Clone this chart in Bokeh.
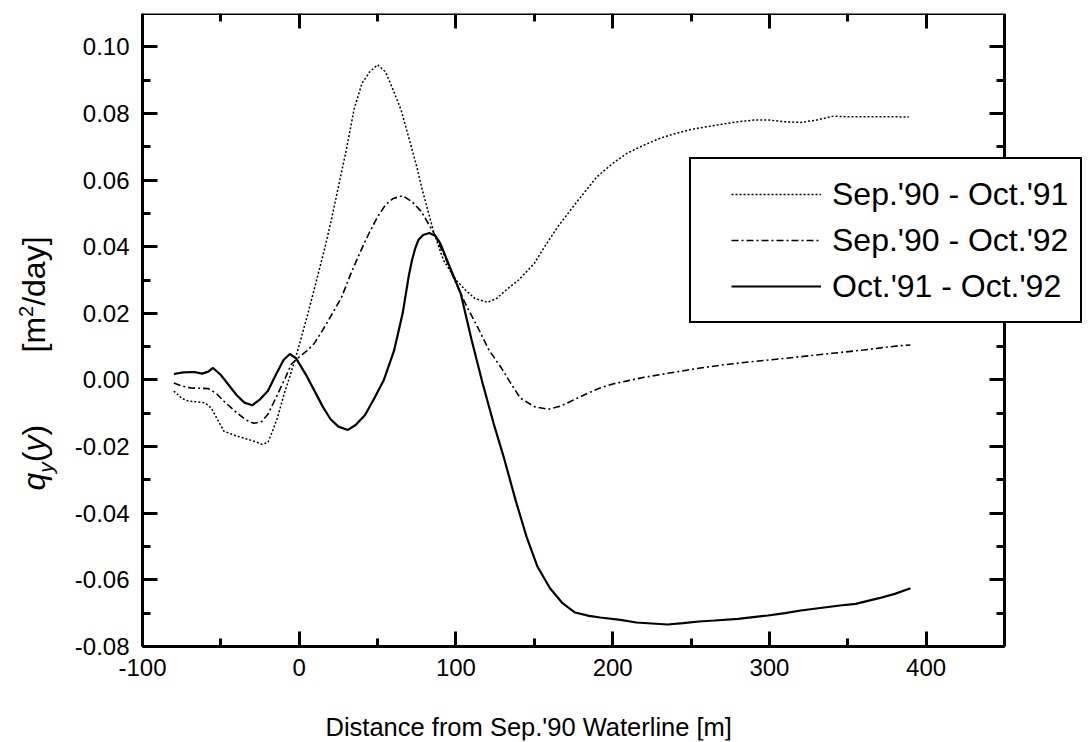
from math import pi
from bokeh.plotting import figure
from bokeh.models import (Range1d, FixedTicker, LinearAxis, Legend, LegendItem,
                          Label)
from bokeh.embed import file_html
from bokeh.resources import INLINE

# ---------------- data ----------------
x_a = [-80, -75, -71, -65, -60, -56, -52, -48, -40, -33, -28, -24, -20, -18, -14,
       -9.5, -6, -3, 0, 5, 10, 16, 20, 25, 30, 35, 40, 45, 50, 55, 60, 65, 69,
       75, 78, 82, 86, 92, 100, 106, 112, 120, 126, 132, 140, 150, 156, 165,
       178, 190, 200, 209, 220, 230, 240, 250, 260, 270, 280, 290, 300, 310,
       320, 330, 341, 350, 360, 370, 380, 389]
y_a = [-0.0033, -0.0055, -0.0063, -0.0066, -0.0069, -0.0085, -0.0120, -0.0154,
       -0.0168, -0.0178, -0.0185, -0.0193, -0.0188, -0.0165, -0.0115, -0.0040,
       0.0010, 0.0057, 0.0105, 0.0190, 0.0280, 0.0390, 0.0470, 0.0580, 0.0690,
       0.0813, 0.0890, 0.0925, 0.0946, 0.0925, 0.0870, 0.0810, 0.0743, 0.0640,
       0.0580, 0.0510, 0.0441, 0.0360, 0.0300, 0.0270, 0.0245, 0.0233, 0.0245,
       0.0270, 0.0300, 0.0350, 0.0396, 0.0460, 0.0540, 0.0610, 0.0650, 0.0680,
       0.0705, 0.0725, 0.0740, 0.0752, 0.0760, 0.0768, 0.0775, 0.0780, 0.0780,
       0.0775, 0.0773, 0.0780, 0.0792, 0.0790, 0.0790, 0.0790, 0.0790, 0.0789]

x_b = [-80, -75, -69, -63, -58, -53, -48, -40, -34, -29, -24, -20, -14, -9, -5,
       0, 5, 9.5, 15, 20, 27, 33, 39.5, 45, 50, 55, 60, 66, 72, 78, 86, 93, 100,
       107, 114, 121, 129, 135, 141, 150, 159, 167, 175, 185, 192, 200, 210,
       220, 235, 256, 270, 285, 300, 320, 340, 360, 383, 390]
y_b = [-0.0009, -0.0018, -0.0024, -0.0025, -0.0026, -0.0040, -0.0064, -0.0098,
       -0.0120, -0.0130, -0.0125, -0.0103, -0.0045, 0.0005, 0.0048, 0.0069,
       0.0088, 0.0109, 0.0150, 0.0190, 0.0248, 0.0320, 0.0390, 0.0445, 0.0490,
       0.0525, 0.0545, 0.0553, 0.0535, 0.0505, 0.0440, 0.0370, 0.0290, 0.0220,
       0.0157, 0.0090, 0.0036, -0.0010, -0.0054, -0.0080, -0.0088, -0.0078,
       -0.0060, -0.0038, -0.0024, -0.0012, -0.0002, 0.0008, 0.0020, 0.0036,
       0.0045, 0.0053, 0.0060, 0.0070, 0.0080, 0.0090, 0.0103, 0.0105]

x_c = [-80, -74, -67, -62, -58, -55, -50, -45, -40, -35, -30, -25, -20, -15,
       -10, -6, -2, 5, 10, 15, 20, 25, 31, 36, 42, 48, 54, 60.5, 66, 70, 72, 74,
       76, 79, 83, 87, 90, 96, 103, 110, 117, 124, 131, 138, 145, 152, 160, 168,
       176, 185, 192, 205, 215, 225, 235, 245, 255, 265, 280, 299, 310, 320,
       335, 345, 355, 370, 380, 390]
y_c = [0.0018, 0.0023, 0.0024, 0.0019, 0.0025, 0.0036, 0.0015, -0.0015, -0.0045,
       -0.0068, -0.0076, -0.0058, -0.0033, 0.0015, 0.0060, 0.0078, 0.0065,
       0.0010, -0.0035, -0.0080, -0.0118, -0.0140, -0.0150, -0.0135, -0.0105,
       -0.0054, 0.0000, 0.0088, 0.0200, 0.0315, 0.0360, 0.0395, 0.0420, 0.0435,
       0.0441, 0.0432, 0.0410, 0.0340, 0.0260, 0.0120, -0.0010, -0.0130,
       -0.0240, -0.0360, -0.0470, -0.0560, -0.0625, -0.0670, -0.0698, -0.0708,
       -0.0713, -0.0720, -0.0728, -0.0731, -0.0734, -0.0730, -0.0725, -0.0722,
       -0.0717, -0.0707, -0.0700, -0.0692, -0.0683, -0.0677, -0.0672, -0.0655,
       -0.0642, -0.0625]

series_labels = ["Sep.'90 - Oct.'91", "Sep.'90 - Oct.'92", "Oct.'91 - Oct.'92"]

x_ticks = [-100, 0, 100, 200, 300, 400]
x_tick_labels = ["-100", "0", "100", "200", "300", "400"]
x_minor = [-50, 50, 150, 250, 350]
y_ticks = [-0.08, -0.06, -0.04, -0.02, 0.0, 0.02, 0.04, 0.06, 0.08, 0.10]
y_tick_labels = ["-0.08", "-0.06", "-0.04", "-0.02", "0.00", "0.02", "0.04",
                 "0.06", "0.08", "0.10"]
y_minor = [-0.07, -0.05, -0.03, -0.01, 0.01, 0.03, 0.05, 0.07, 0.09]
x_axis_span = (-100, 450)
y_axis_span = (-0.08, 0.11)

x_title = "Distance from Sep.'90 Waterline [m]"

FONT = "Liberation Sans"
MID = 0.35   # distance (em) from text middle to its baseline

# ---------------- layout geometry (pixels) ----------------
W, H = 1088, 742
FL, FR, FT, FB = 10, 1087, 13, 740          # frame edges on the canvas
AX_L, AX_R, AX_B = 142, 1004, 646           # where the axis box sits
sx = (AX_R - AX_L) / (x_axis_span[1] - x_axis_span[0])
sy = (AX_B - FT) / (y_axis_span[1] - y_axis_span[0])
x_range = Range1d(x_axis_span[0] - (AX_L - FL) / sx,
                  x_axis_span[1] + (FR - AX_R) / sx)
y_range = Range1d(y_axis_span[0] - (FB - AX_B) / sy, y_axis_span[1])

p = figure(width=W, height=H, x_range=x_range, y_range=y_range,
           output_backend="svg", toolbar_location=None,
           min_border_left=FL, min_border_right=W - FR,
           min_border_top=FT, min_border_bottom=H - FB,
           x_axis_location=None, y_axis_location=None)
p.xgrid.visible = False
p.ygrid.visible = False
p.outline_line_color = None
p.background_fill_color = "white"
p.border_fill_color = "white"


def style_axis(ax, ticks, minor, labels, show_labels, loc, bounds):
    ax.fixed_location = loc
    ax.bounds = bounds
    ax.ticker = FixedTicker(ticks=ticks, minor_ticks=minor)
    ax.axis_line_width = 3
    ax.axis_line_color = "black"
    ax.major_tick_in = 15
    ax.major_tick_out = 0
    ax.minor_tick_in = 8
    ax.minor_tick_out = 0
    ax.major_tick_line_width = 3
    ax.minor_tick_line_width = 3
    ax.major_label_text_font = FONT
    if show_labels:
        ax.major_label_overrides = {t: l for t, l in zip(ticks, labels)}
        ax.major_label_text_font_size = "24px"
        ax.major_label_text_color = "black"
        ax.major_label_standoff = 12
    else:
        ax.major_label_text_font_size = "0px"
        ax.major_label_standoff = 0
        ax.major_label_overrides = {t: "" for t in ticks}


xb = LinearAxis()
style_axis(xb, x_ticks, x_minor, x_tick_labels, True, y_axis_span[0], x_axis_span)
p.add_layout(xb, "below")
xt = LinearAxis()
style_axis(xt, x_ticks, x_minor, x_tick_labels, False, y_axis_span[1], x_axis_span)
p.add_layout(xt, "above")
yl = LinearAxis()
style_axis(yl, y_ticks, y_minor, y_tick_labels, True, x_axis_span[0], y_axis_span)
yl.major_label_standoff = 13
p.add_layout(yl, "left")
yr = LinearAxis()
style_axis(yr, y_ticks, y_minor, y_tick_labels, False, x_axis_span[1], y_axis_span)
p.add_layout(yr, "right")

# ---------------- lines ----------------
r1 = p.line(x_a, y_a, line_color="black", line_width=1.5, line_dash="2 2")
r2 = p.line(x_b, y_b, line_color="black", line_width=1.6, line_dash="7 3 2 3")
r3 = p.line(x_c, y_c, line_color="black", line_width=2.2)

legend = Legend(items=[LegendItem(label=series_labels[0], renderers=[r1]),
                       LegendItem(label=series_labels[1], renderers=[r2]),
                       LegendItem(label=series_labels[2], renderers=[r3])],
                location=(689 - FL, FB - 323), orientation="vertical")
legend.title = " "
legend.title_location = "left"
legend.title_text_font_size = "20px"
legend.title_standoff = 5
legend.border_line_color = "black"
legend.border_line_alpha = 1
legend.border_line_width = 2.5
legend.background_fill_color = "white"
legend.background_fill_alpha = 1
legend.label_text_font = FONT
legend.label_text_font_size = "32px"
legend.label_text_color = "black"
legend.glyph_width = 90
legend.glyph_height = 20
legend.label_height = 46
legend.label_standoff = 11
legend.padding = 12
legend.spacing = 0
legend.margin = 0
p.add_layout(legend)

# ---------------- x title ----------------
XT_SIZE = 25.5
p.add_layout(Label(x=325 - FL, y=FB - (735 - MID * XT_SIZE), x_units="screen",
                   y_units="screen", text=x_title, text_align="left",
                   text_baseline="middle", text_font=FONT,
                   text_font_size=f"{XT_SIZE}px", text_color="black"))

# ---------------- y title (rotated pieces) ----------------
ADV = {"q": .556, "y": .5, "(": .333, ")": .333, "[": .278, "m": .833,
       "2": .556, "/": .278, "d": .556, "a": .556, "]": .278}
BASE = 32
# (text, style, size, baseline x on canvas)
parts1 = [("q", "italic", BASE, 45), ("y", "italic", 21, 52),
          ("(", "normal", BASE, 45), ("y", "italic", BASE, 45),
          (")", "normal", BASE, 45)]
parts2 = [("[m", "normal", BASE, 45), ("2", "normal", 20, 32),
          ("/day]", "normal", BASE, 45)]


def place(parts, y0):
    y = y0
    for txt, style, size, bx in parts:
        p.add_layout(Label(x=bx - MID * size - FL, y=y, x_units="screen",
                           y_units="screen", text=txt, angle=pi / 2,
                           text_align="left", text_baseline="middle",
                           text_font=FONT, text_font_style=style,
                           text_font_size=f"{size}px", text_color="black"))
        y += sum(ADV[c] for c in txt) * size


place(parts1, FB - 490)
place(parts2, FB - 352)

open("out.html", "w").write(file_html(p, INLINE))
